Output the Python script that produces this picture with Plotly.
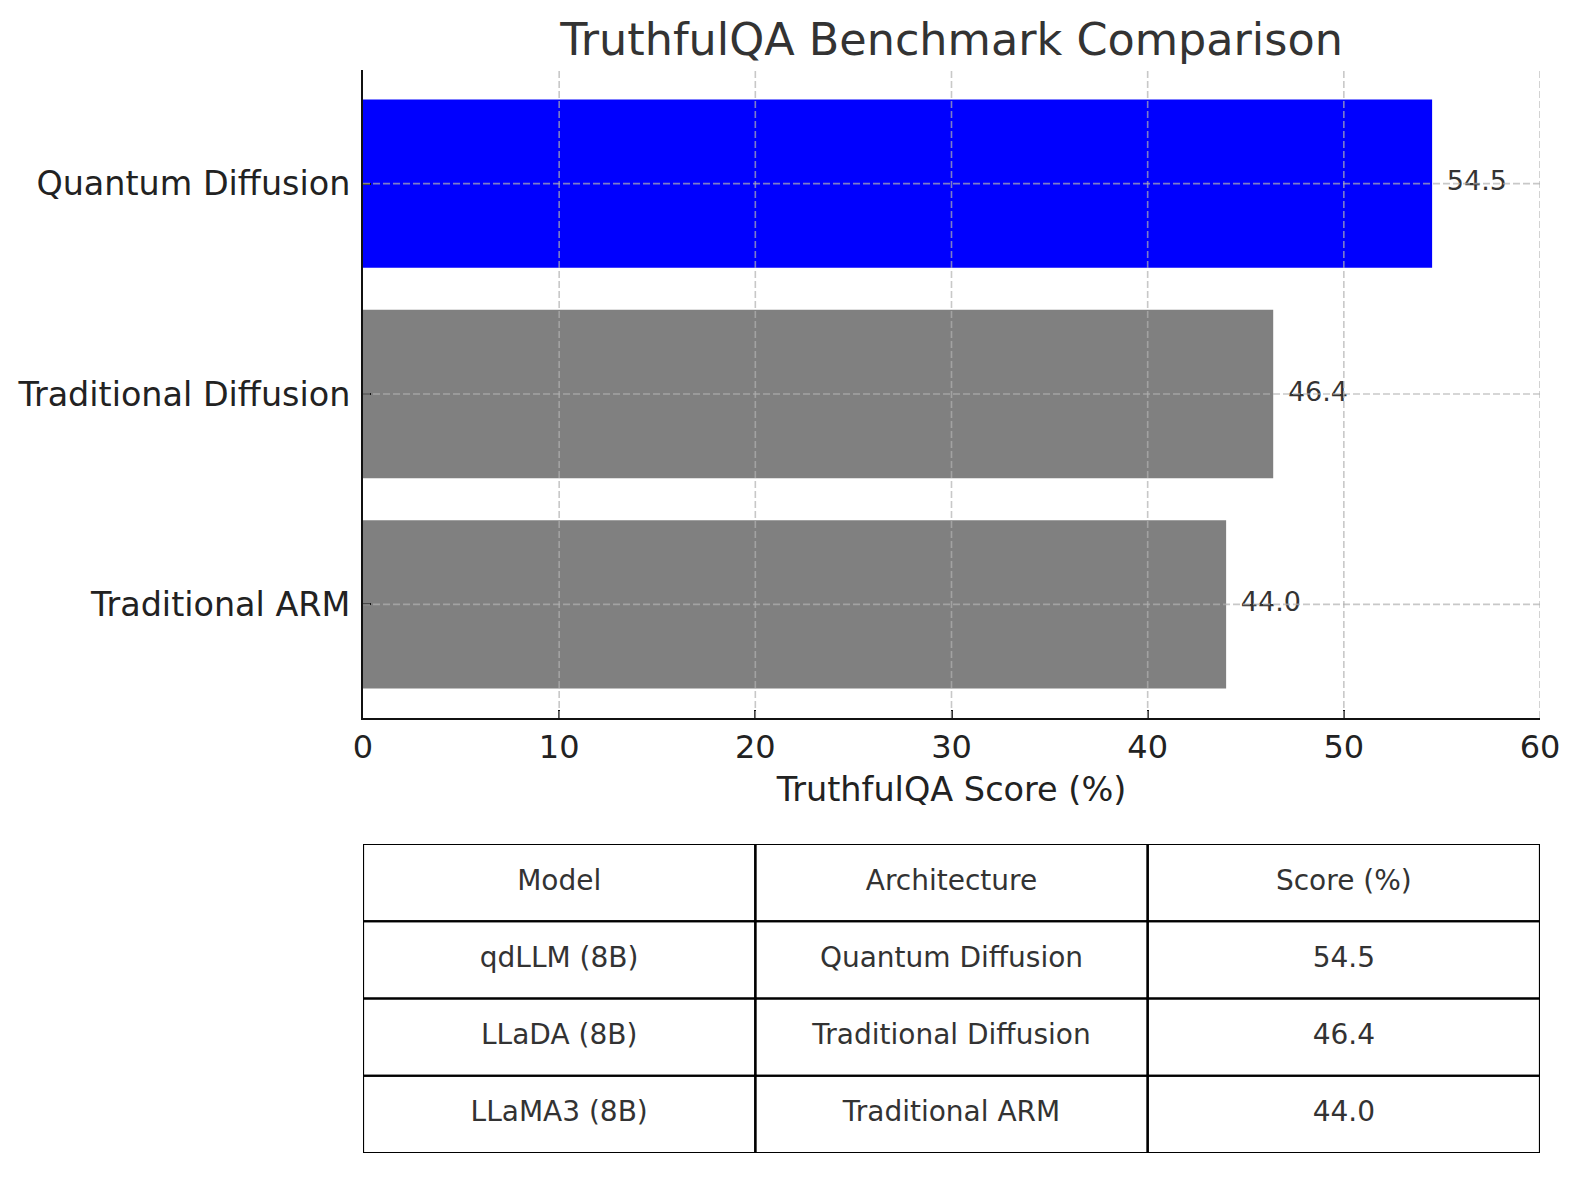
import plotly.graph_objects as go

# bar chart data (bottom to top, as drawn)
architectures = ["Traditional ARM", "Traditional Diffusion", "Quantum Diffusion"]
scores = [44.0, 46.4, 54.5]
bar_colors = ["gray", "gray", "blue"]
x_ticks = [0, 10, 20, 30, 40, 50, 60]

# table data
table_header = ["Model", "Architecture", "Score (%)"]
table_models = ["qdLLM (8B)", "LLaDA (8B)", "LLaMA3 (8B)"]
table_archs = ["Quantum Diffusion", "Traditional Diffusion", "Traditional ARM"]
table_scores = ["54.5", "46.4", "44.0"]

FONT = "DejaVu Sans"
W, H = 1579, 1180
# plot area in pixels (page body adds ~8px offset)
x0, x1 = 355, 1532
y0, y1 = 62, 710
tb0, tb1 = 836, 1145

fig = go.Figure()

fig.add_trace(go.Bar(
    x=scores, y=architectures, orientation="h",
    marker=dict(color=bar_colors, line=dict(width=0)),
    width=0.8, hoverinfo="skip", showlegend=False,
))
# value labels next to bars
fig.add_trace(go.Scatter(
    x=[s + 0.75 for s in scores], y=architectures, mode="text",
    text=[f"{s:.1f}" for s in scores], textposition="middle right",
    textfont=dict(family=FONT, size=27, color="#333333"),
    hoverinfo="skip", showlegend=False,
))

# table: cell texts through a second pair of axes
rows = [table_header] + [list(r) for r in zip(table_models, table_archs, table_scores)]
tx, ty, tt = [], [], []
for i, row in enumerate(rows):
    for j, val in enumerate(row):
        tx.append(j + 0.5)
        ty.append(i + 0.5)
        tt.append(val)
fig.add_trace(go.Scatter(
    x=tx, y=ty, text=tt, mode="text", textposition="middle center",
    textfont=dict(family=FONT, size=28, color="#333333"),
    xaxis="x2", yaxis="y2", hoverinfo="skip", showlegend=False,
))

shapes = []
# dashed grid drawn above the bars, like the original
grid_line = dict(color="rgba(176,176,176,0.7)", width=1.6, dash="7px,3px")
for v in x_ticks[1:]:
    shapes.append(dict(type="line", xref="x", yref="y domain", x0=v, x1=v,
                       y0=0, y1=1, line=grid_line, layer="above"))
for cat in architectures:
    shapes.append(dict(type="line", xref="x domain", yref="y", x0=0, x1=1,
                       y0=cat, y1=cat, line=grid_line, layer="above"))
# table cell borders
for i in range(len(rows)):
    for j in range(len(table_header)):
        shapes.append(dict(type="rect", xref="x2", yref="y2",
                           x0=j, x1=j + 1, y0=i, y1=i + 1,
                           line=dict(color="black", width=2.2)))

axis_common = dict(showline=True, linecolor="#111111", linewidth=2,
                   ticks="inside", ticklen=8, tickwidth=2, tickcolor="#111111",
                   showgrid=False, zeroline=False, automargin=False,
                   layer="above traces")
fig.update_layout(
    width=W, height=H,
    margin=dict(l=0, r=0, t=0, b=0, autoexpand=False),
    paper_bgcolor="white", plot_bgcolor="white",
    font=dict(family=FONT, color="#222222"),
    title=dict(text="TruthfulQA Benchmark Comparison",
               x=(x0 + x1) / 2 / W, xanchor="center",
               y=1 - 31 / H, yanchor="middle",
               font=dict(family=FONT, size=44.5, color="#333333")),
    xaxis=dict(domain=[x0 / W, x1 / W], range=[0, 60],
               tickvals=x_ticks,
               tickfont=dict(size=32, color="#222222"),
               title=dict(text="TruthfulQA Score (%)", standoff=12,
                          font=dict(size=33.5, color="#222222")),
               **axis_common),
    yaxis=dict(domain=[1 - y1 / H, 1 - y0 / H], range=[-0.54, 2.54],
               categoryorder="array", categoryarray=architectures,
               tickfont=dict(size=33.4, color="#222222"),
               ticklabelstandoff=4,
               **axis_common),
    xaxis2=dict(domain=[x0 / W, x1 / W], range=[0, 3], visible=False,
                anchor="y2", fixedrange=True, automargin=False),
    yaxis2=dict(domain=[1 - tb1 / H, 1 - tb0 / H], range=[4, 0], visible=False,
                anchor="x2", fixedrange=True, automargin=False),
    shapes=shapes,
)

fig.write_html("out.html")
